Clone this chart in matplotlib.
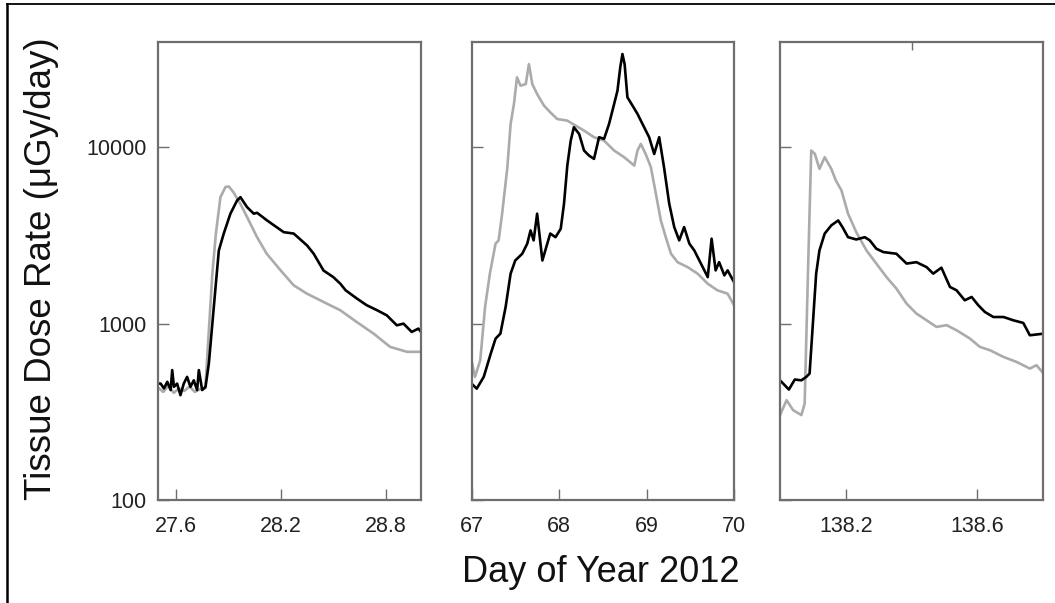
import matplotlib
matplotlib.use("Agg")
import matplotlib.pyplot as plt
from matplotlib.lines import Line2D

plt.rcParams['font.family'] = ['Liberation Sans', 'DejaVu Sans']

# ---------------- data ----------------
# Panel 1: days 27.5 - 29.0
p1_black_day = [27.505, 27.515, 27.534, 27.553, 27.572, 27.581, 27.591, 27.609, 27.628,
                27.647, 27.666, 27.685, 27.704, 27.723, 27.733, 27.752, 27.771,
                27.79, 27.81, 27.83, 27.847, 27.875, 27.913, 27.951, 27.97, 28.008,
                28.046, 28.065, 28.122, 28.217, 28.274, 28.35, 28.388, 28.444, 28.5,
                28.54, 28.57, 28.634, 28.69, 28.75, 28.805, 28.862, 28.9, 28.947,
                28.985, 29.0]
p1_black_val = [457, 457, 429, 468, 420, 545, 438, 457, 393,
                457, 499, 438, 477, 420, 545, 420, 438,
                594, 1000, 1683, 2600, 3240, 4200, 4990, 5210, 4575,
                4200, 4250, 3845, 3300, 3240, 2775, 2490, 2000, 1835,
                1683, 1545, 1388, 1272, 1190, 1114, 978, 1000, 897,
                937, 897]

p1_gray_day = [27.505, 27.53, 27.56, 27.59, 27.62, 27.65, 27.68, 27.71, 27.74, 27.77,
               27.79, 27.81, 27.83, 27.856, 27.885, 27.904, 27.93, 27.97, 28.008,
               28.065, 28.12, 28.2, 28.274, 28.35, 28.444, 28.54, 28.634, 28.73,
               28.824, 28.92, 29.0]
p1_gray_val = [430, 410, 445, 405, 430, 415, 440, 410, 425, 430,
               916, 1920, 3230, 5210, 5950, 5990, 5560, 4775, 4020,
               3090, 2490, 2000, 1648, 1478, 1327, 1190, 1020, 877,
               738, 692, 692]

# Panel 2: days 67 - 70
p2_black_day = [67.0, 67.06, 67.14, 67.22, 67.275, 67.33, 67.39, 67.447, 67.5, 67.58,
                67.637, 67.675, 67.71, 67.75, 67.81, 67.866, 67.9, 67.96, 68.02,
                68.057, 68.095, 68.134, 68.17, 68.23, 68.286, 68.343, 68.4, 68.458,
                68.515, 68.572, 68.63, 68.668, 68.7, 68.725, 68.75, 68.782, 68.84,
                68.897, 68.973, 69.03, 69.088, 69.145, 69.2, 69.26, 69.317, 69.374,
                69.43, 69.49, 69.546, 69.622, 69.7, 69.744, 69.79, 69.83, 69.89,
                69.927, 70.0]
p2_black_val = [457, 428, 499, 676, 822, 877, 1242, 1920, 2280, 2490,
                2840, 3375, 2965, 4200, 2280, 2840, 3240, 3090, 3450,
                4775, 7870, 10900, 12980, 11900, 9580, 8970, 8590, 11400,
                11150, 13550, 17580, 20900, 28360, 33750, 29570, 19190, 17220,
                15450, 12980, 11400, 9160, 11400, 7710, 4775, 3525, 2965,
                3525, 2840, 2600, 2190, 1835, 3030, 2004, 2230, 1877,
                2004, 1720]

p2_gray_day = [67.0, 67.04, 67.1, 67.155, 67.21, 67.275, 67.31, 67.35, 67.41, 67.447,
               67.485, 67.52, 67.56, 67.62, 67.656, 67.695, 67.75, 67.828, 67.9,
               67.98, 68.095, 68.19, 68.286, 68.4, 68.515, 68.63, 68.744, 68.86,
               68.897, 68.935, 68.99, 69.05, 69.107, 69.164, 69.22, 69.28, 69.355,
               69.47, 69.584, 69.7, 69.81, 69.927, 70.0]
p2_gray_val = [620, 499, 620, 1242, 1920, 2840, 2965, 4200, 7710, 13550,
               17580, 24900, 22340, 22800, 29570, 22800, 20030, 17220, 15780,
               14450, 14150, 13260, 12420, 11400, 10900, 9580, 8780, 7870,
               9580, 10440, 9160, 7710, 5450, 3845, 3090, 2490, 2230,
               2090, 1920, 1683, 1545, 1478, 1272]

# Panel 3: days 138.0 - 138.8
p3_black_day = [138.0, 138.027, 138.045, 138.065, 138.08, 138.09, 138.1, 138.11, 138.12,
                138.136, 138.156, 138.177, 138.19, 138.207, 138.232, 138.258, 138.273,
                138.293, 138.314, 138.354, 138.385, 138.415, 138.446, 138.466, 138.491,
                138.517, 138.537, 138.562, 138.583, 138.603, 138.623, 138.649, 138.68,
                138.71, 138.74, 138.76, 138.802]
p3_black_val = [477, 423, 482, 477, 499, 521, 1000, 1920, 2600,
                3240, 3605, 3845, 3525, 3090, 3000, 3090, 2965,
                2660, 2545, 2490, 2190, 2230, 2090, 1920, 2075,
                1614, 1545, 1356, 1416, 1272, 1165, 1090, 1090,
                1044, 1009, 859, 877]

p3_gray_day = [138.0, 138.02, 138.04, 138.065, 138.075, 138.085, 138.095, 138.106, 138.12,
               138.136, 138.156, 138.17, 138.187, 138.207, 138.232, 138.263, 138.293,
               138.324, 138.354, 138.385, 138.415, 138.446, 138.476, 138.507, 138.537,
               138.578, 138.608, 138.639, 138.68, 138.72, 138.76, 138.78, 138.802]
p3_gray_val = [303, 368, 323, 303, 352, 1920, 9580, 9170, 7540,
               8780, 7540, 6470, 5690, 4200, 3300, 2600, 2190,
               1835, 1580, 1298, 1140, 1044, 958, 980, 917,
               822, 738, 706, 647, 606, 556, 581, 521]

xlims = [(27.5, 29.0), (67.0, 70.0), (138.0, 138.8)]
xticks = [[27.6, 28.2, 28.8], [67, 68, 69, 70], [138.2, 138.6]]
xticklabels = [["27.6", "28.2", "28.8"], ["67", "68", "69", "70"], ["138.2", "138.6"]]
yticks = [100, 1000, 10000]
yticklabels = ["100", "1000", "10000"]
ylim = (100, 39500)

ylabel = "Tissue Dose Rate (\u03bcGy/day)"
xlabel = "Day of Year 2012"

series = [
    (p1_gray_day, p1_gray_val, p1_black_day, p1_black_val),
    (p2_gray_day, p2_gray_val, p2_black_day, p2_black_val),
    (p3_gray_day, p3_gray_val, p3_black_day, p3_black_val),
]

# ---------------- figure ----------------
W, H = 1055, 603
fig = plt.figure(figsize=(W / 100, H / 100), dpi=100)

panel_px = [(158, 421), (471.5, 734), (780, 1043)]
top_px, bot_px = 42, 500
spine_col = "#6e6e6e"
gray_col = "#ababab"

axes = []
for i, (l, r) in enumerate(panel_px):
    ax = fig.add_axes([l / W, 1 - bot_px / H, (r - l) / W, (bot_px - top_px) / H])
    gd, gv, bd, bv = series[i]
    ax.plot(gd, gv, color=gray_col, lw=1.9, solid_joinstyle="round")
    ax.plot(bd, bv, color="black", lw=1.9, solid_joinstyle="round")
    ax.set_yscale("log")
    ax.set_ylim(*ylim)
    ax.set_xlim(*xlims[i])
    ax.set_xticks(xticks[i])
    ax.set_xticklabels(xticklabels[i])
    ax.set_yticks(yticks)
    ax.minorticks_off()
    if i == 0:
        ax.set_yticklabels(yticklabels)
    else:
        ax.set_yticklabels([])
    ax.tick_params(axis="both", direction="in", length=8, width=1.0, color=spine_col,
                   labelsize=15.5, labelcolor="#222222")
    ax.tick_params(axis="x", pad=11.5)
    ax.tick_params(axis="y", pad=8)
    for s in ax.spines.values():
        s.set_color(spine_col)
        s.set_linewidth(1.6)
    axes.append(ax)

# small inward tick on the top of the third panel
sec = axes[2].secondary_xaxis("top")
sec.set_xticks([138.4])
sec.set_xticklabels([])
sec.tick_params(direction="in", length=6, width=1.0, color=spine_col)
sec.spines["top"].set_visible(False)

fig.text(42 / W, 1 - 269 / H, ylabel, rotation=90, ha="center", va="center",
         fontsize=26.5, color="#111111")
fig.text(601 / W, 1 - 582 / H, xlabel, ha="center", va="baseline",
         fontsize=26, color="#111111")

# outer frame (top and left edges visible in reference)
fig.add_artist(Line2D([6.5 / W, 6.5 / W], [0, 1 - 4 / H], color="black", lw=1.8,
                      transform=fig.transFigure))
fig.add_artist(Line2D([6.5 / W, 1], [1 - 4 / H, 1 - 4 / H], color="black", lw=1.3,
                      transform=fig.transFigure))

fig.savefig("out.png", dpi=100)
